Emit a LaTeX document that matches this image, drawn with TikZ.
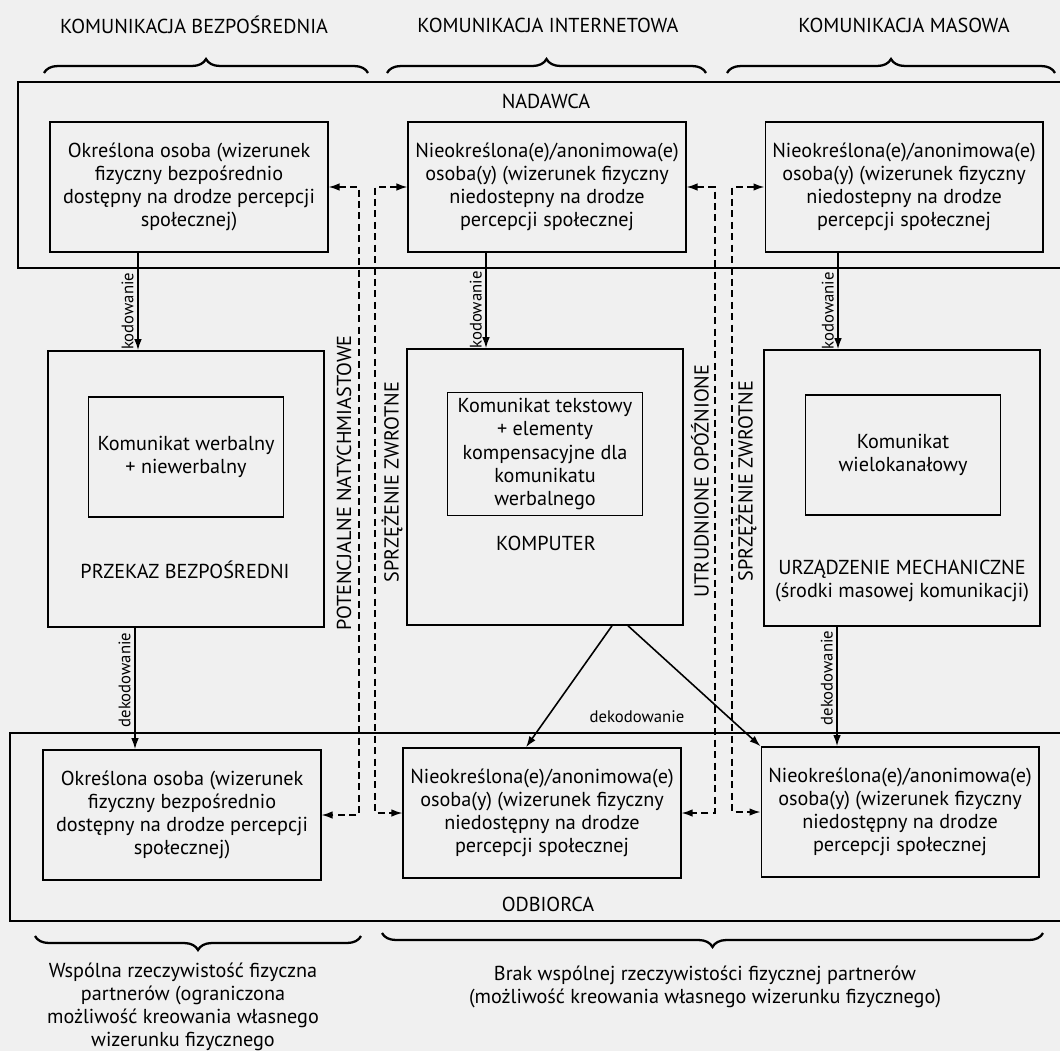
\documentclass[tikz,border=0pt]{standalone}
\usepackage{fontspec}
\setmainfont{PT Sans}
\usetikzlibrary{arrows.meta,decorations.pathreplacing}

\begin{document}
\begin{tikzpicture}[x=0.02cm, y=-0.02cm, line width=0.9pt,
		font=\fontsize{11.5}{13.2}\selectfont,
		osoba/.style={draw, align=center, minimum width=5.55cm, minimum height=2.6cm},
		kanal/.style={draw, minimum width=5.52cm, minimum height=5.52cm},
		komunikat/.style={draw, align=center, minimum width=3.9cm, minimum height=2.4cm},
		etykieta/.style={font=\fontsize{9.5}{11}\selectfont, inner sep=2pt},
		kod/.style={-{Latex[length=2.2mm,width=1.5mm]}},
		sprz/.style={{Latex[length=2.2mm,width=1.5mm]}-{Latex[length=2.2mm,width=1.5mm]}, dash pattern=on 4pt off 2.5pt},
		klamra/.style={decorate, decoration={brace, amplitude=0.28cm}, line width=1.3pt} ]
	\useasboundingbox (0,0) rectangle (1060,1051);
	\fill[black!6] (0,0) rectangle (1060,1051);

	\node (hbezp) at (194,25) {KOMUNIKACJA BEZPOŚREDNIA};
	\node (hint) at (548,25) {KOMUNIKACJA INTERNETOWA};
	\node (hmas) at (904,25) {KOMUNIKACJA MASOWA};
	\draw[klamra] (44,73) -- (368,73);
	\draw[klamra] (387,73) -- (706,73);
	\draw[klamra] (727,73) -- (1055,73);

	\draw (18,82) rectangle (1066,268);
	\node (nadawca) at (546,101) {NADAWCA};
	\node[osoba] (nad1) at (189,187) {Określona osoba (wizerunek\\fizyczny bezpośrednio\\dostępny na drodze percepcji\\społecznej)};
	\node[osoba] (nad2) at (547,187) {Nieokreślona(e)/anonimowa(e)\\osoba(y) (wizerunek fizyczny\\niedostepny na drodze\\percepcji społecznej};
	\node[osoba] (nad3) at (904,187) {Nieokreślona(e)/anonimowa(e)\\osoba(y) (wizerunek fizyczny\\niedostepny na drodze\\percepcji społecznej};

	\node[kanal] (kan1) at (186,489) {};
	\node[kanal] (kan2) at (545,487) {};
	\node[kanal] (kan3) at (902,488) {};
	\node[komunikat] (kom1) at (186,457) {Komunikat werbalny\\+ niewerbalny};
	\node[komunikat] (kom2) at (545,454) {Komunikat tekstowy\\+ elementy\\kompensacyjne dla\\komunikatu\\werbalnego};
	\node[komunikat] (kom3) at (903,455) {Komunikat\\wielokanałowy};
	\node (przekaz) at (185,570) {PRZEKAZ BEZPOŚREDNI};
	\node (komputer) at (546,543) {KOMPUTER};
	\node[align=center] (urzadzenie) at (902,581) {URZĄDZENIE MECHANICZNE\\(środki masowej komunikacji)};

	\draw (10,733) rectangle (1066,921);
	\node (odbiorca) at (548,904) {ODBIORCA};
	\node[osoba] (odb1) at (182,815) {Określona osoba (wizerunek\\fizyczny bezpośrednio\\dostępny na drodze percepcji\\społecznej)};
	\node[osoba] (odb2) at (542,813) {Nieokreślona(e)/anonimowa(e)\\osoba(y) (wizerunek fizyczny\\niedostępny na drodze\\percepcji społecznej};
	\node[osoba] (odb3) at (900,812) {Nieokreślona(e)/anonimowa(e)\\osoba(y) (wizerunek fizyczny\\niedostępny na drodze\\percepcji społecznej};

	\draw[kod] (nad1.south -| 138,0) -- node[etykieta, rotate=90, above, pos=0.6] {kodowanie} (kan1.north -| 138,0);
	\draw[kod] (nad2.south -| 486,0) -- node[etykieta, rotate=90, above, pos=0.6] {kodowanie} (kan2.north -| 486,0);
	\draw[kod] (nad3.south -| 838,0) -- node[etykieta, rotate=90, above, pos=0.6] {kodowanie} (kan3.north -| 838,0);
	\draw[kod] (kan1.south -| 135,0) -- node[etykieta, rotate=90, above, pos=0.43] {dekodowanie} (odb1.north -| 135,0);
	\draw[kod] (kan3.south -| 837,0) -- node[etykieta, rotate=90, above, pos=0.43] {dekodowanie} (odb3.north -| 837,0);
	\draw[kod] (kan2.south -| 612,0) -- (odb2.north -| 526,0);
	\draw[kod] (kan2.south -| 628,0) -- (odb3.north west);
	\node[etykieta] (dekod) at (637,717) {dekodowanie};

	\draw[sprz] (nad1.east) -- (nad1.east -| 359,0) |- (odb1.east);
	\draw[sprz] (nad2.west) -- (nad2.west -| 375,0) |- (odb2.west);
	\draw[sprz] (nad2.east) -- (nad2.east -| 715,0) |- (odb2.east);
	\draw[sprz] (nad3.west) -- (nad3.west -| 732,0) |- (odb3.west);
	\node[rotate=90] (potencjalne) at (344,483) {POTENCJALNE NATYCHMIASTOWE};
	\node[rotate=90] (zwrotne1) at (392,482) {SPRZĘŻENIE ZWROTNE};
	\node[rotate=90] (utrudnione) at (700,481) {UTRUDNIONE OPÓŹNIONE};
	\node[rotate=90] (zwrotne2) at (746,481) {SPRZĘŻENIE ZWROTNE};

	\draw[klamra] (361,936) -- (35,936);
	\draw[klamra] (1043,933) -- (382,933);
	\node[align=center] (wspolna) at (183,1007) {Wspólna rzeczywistość fizyczna\\partnerów (ograniczona\\możliwość kreowania własnego\\wizerunku fizycznego};
	\node[align=center] (brak) at (705,987) {Brak wspólnej rzeczywistości fizycznej partnerów\\(możliwość kreowania własnego wizerunku fizycznego)};
\end{tikzpicture}
\end{document}
